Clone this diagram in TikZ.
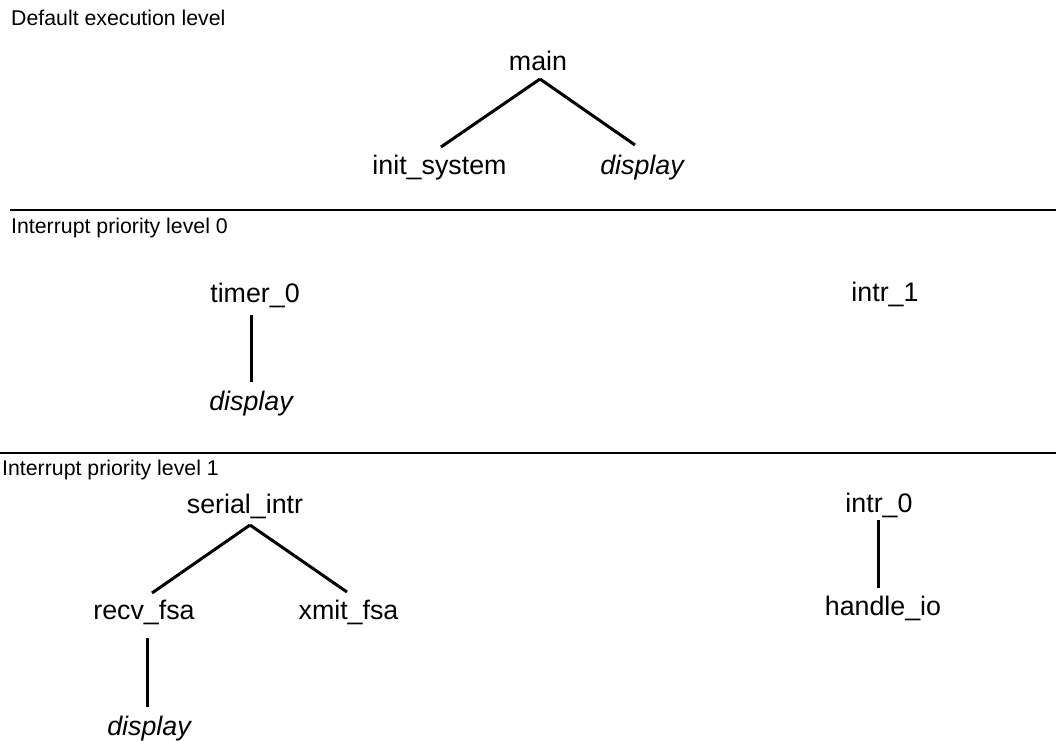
\documentclass[tikz,border=0pt]{standalone}
\usepackage{fontspec}
\setmainfont{Liberation Sans}
\begin{document}
\begin{tikzpicture}[x=1pt,y=-1pt,
  fn/.style={anchor=base,inner sep=0pt,font=\fontsize{26.8}{30}\selectfont},
  lbl/.style={anchor=base west,inner sep=0pt,font=\fontsize{21.3}{24}\selectfont},
  link/.style={line width=3pt},
  sepline/.style={line width=2pt}]
\useasboundingbox (0,0) rectangle (1056,740);
% level labels
\node[lbl] (l0) at (11,25) {Default execution level};
\node[lbl] (l1) at (11,233) {Interrupt priority level 0};
\node[lbl] (l2) at (2,475) {Interrupt priority level 1};
% separators
\coordinate (s1a) at (10,209.5);
\coordinate (s1b) at (1056,209.5);
\coordinate (s2a) at (0,452.5);
\coordinate (s2b) at (1056,452.5);
\draw[sepline] (s1a) -- (s1b);
\draw[sepline] (s2a) -- (s2b);
% default level
\node[fn] (main) at (538,70) {main};
\node[fn] (init) at (439.5,174) {init\_system};
\node[fn] (disp1) at (642,174) {\itshape display};
\draw[link] ([xshift=2pt,yshift=-9pt]main.base) -- ([xshift=1.5pt,yshift=27pt]init.base);
\draw[link] ([xshift=2pt,yshift=-9pt]main.base) -- ([xshift=-7pt,yshift=29pt]disp1.base);
% level 0
\node[fn] (timer) at (255,302) {timer\_0};
\node[fn] (disp2) at (251,410) {\itshape display};
\draw[link] ([xshift=-4pt,yshift=-13pt]timer.base) -- ([yshift=28pt]disp2.base);
\node[fn] (intr1) at (885,301) {intr\_1};
% level 1
\node[fn] (serial) at (245,513) {serial\_intr};
\node[fn] (recv) at (144,619) {recv\_fsa};
\node[fn] (xmit) at (348.5,619) {xmit\_fsa};
\node[fn] (disp3) at (149,735) {\itshape display};
\draw[link] ([xshift=5pt,yshift=-12pt]serial.base) -- ([xshift=8pt,yshift=26pt]recv.base);
\draw[link] ([xshift=5pt,yshift=-12pt]serial.base) -- ([xshift=-1.5pt,yshift=27pt]xmit.base);
\draw[link] ([xshift=3pt,yshift=-19pt]recv.base) -- ([xshift=-2pt,yshift=28pt]disp3.base);
\node[fn] (intr0) at (879,512) {intr\_0};
\node[fn] (hio) at (883,615) {handle\_io};
\draw[link] ([xshift=-1pt,yshift=-8pt]intr0.base) -- ([xshift=-5pt,yshift=27pt]hio.base);
\end{tikzpicture}
\end{document}
